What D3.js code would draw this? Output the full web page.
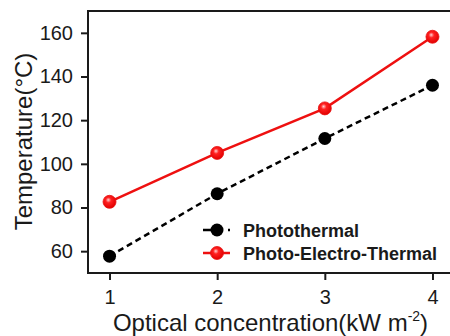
<!DOCTYPE html>
<html>
<head>
<meta charset="utf-8">
<script src="https://cdn.jsdelivr.net/npm/d3@7"></script>
<style>
  body { margin: 0; background: #fff; }
  svg { display: block; font-family: "Liberation Sans", Arial, sans-serif; }
</style>
</head>
<body>
<svg id="chart" width="450" height="336"></svg>
<script>
// data
var concentration = [1, 2, 3, 4];
var photothermal = [57.7, 86.3, 111.6, 136.0];
var photoElectroThermal = [82.6, 105.0, 125.4, 158.2];
var xTicks = [1, 2, 3, 4];
var yTicks = [60, 80, 100, 120, 140, 160];
var legendNames = ["Photothermal", "Photo-Electro-Thermal"];

var svg = d3.select('#chart');
var pLeft = 88, pTop = 11, pBottom = 273, pRight = 454;

var x = d3.scaleLinear().domain([0.8, 4.2]).range([pLeft, pRight]);
var y = d3.scaleLinear().domain([50, 170]).range([pBottom, pTop]);

// gradient for the shiny red balls
var defs = svg.append('defs');
var grad = defs.append('radialGradient').attr('id', 'redball')
    .attr('cx', '45%').attr('cy', '40%').attr('r', '60%').attr('fx', '40%').attr('fy', '35%');
grad.append('stop').attr('offset', '0%').attr('stop-color', '#ffd0d0');
grad.append('stop').attr('offset', '35%').attr('stop-color', '#ff2020');
grad.append('stop').attr('offset', '100%').attr('stop-color', '#e00000');

// axes
var xAxis = d3.axisBottom(x).tickValues(xTicks).tickSize(7).tickPadding(10).tickFormat(d3.format('d'));
var yAxis = d3.axisLeft(y).tickValues(yTicks).tickSize(7).tickPadding(8);

var gx = svg.append('g').attr('transform', 'translate(0,' + pBottom + ')').call(xAxis);
var gy = svg.append('g').attr('transform', 'translate(' + pLeft + ',0)').call(yAxis);
[gx, gy].forEach(function(g){
    g.select('.domain').remove();
    g.selectAll('.tick line').attr('stroke', '#1a1a1a').attr('stroke-width', 2);
    g.selectAll('.tick text').attr('fill', '#1a1a1a').style('font-size', '20px')
        .style('font-family', '"Liberation Sans", Arial, sans-serif');
});

// frame
svg.append('rect')
    .attr('x', pLeft).attr('y', pTop)
    .attr('width', pRight - pLeft).attr('height', pBottom - pTop)
    .attr('fill', 'none').attr('stroke', '#1a1a1a').attr('stroke-width', 2);

// lines
var line = d3.line().x(function(d){ return x(d[0]); }).y(function(d){ return y(d[1]); });
var ptData = concentration.map(function(c, i){ return [c, photothermal[i]]; });
var petData = concentration.map(function(c, i){ return [c, photoElectroThermal[i]]; });

svg.append('path').datum(ptData).attr('d', line)
    .attr('fill', 'none').attr('stroke', '#000').attr('stroke-width', 2.5)
    .attr('stroke-dasharray', '6,4');
svg.append('path').datum(petData).attr('d', line)
    .attr('fill', 'none').attr('stroke', '#ee1010').attr('stroke-width', 2.5);

svg.selectAll('.pt').data(ptData).enter().append('circle').attr('class', 'pt')
    .attr('cx', function(d){ return x(d[0]); }).attr('cy', function(d){ return y(d[1]); })
    .attr('r', 6.5).attr('fill', '#000');
svg.selectAll('.pet').data(petData).enter().append('circle').attr('class', 'pet')
    .attr('cx', function(d){ return x(d[0]); }).attr('cy', function(d){ return y(d[1]); })
    .attr('r', 6.5).attr('fill', 'url(#redball)').attr('stroke', '#e81010').attr('stroke-width', 0.8);

// legend
var lg = svg.append('g').attr('transform', 'translate(203,230)');
lg.append('line').attr('x1', 0).attr('x2', 27).attr('y1', 0).attr('y2', 0)
    .attr('stroke', '#000').attr('stroke-width', 2.5).attr('stroke-dasharray', '8,4,3,10');
lg.append('circle').attr('cx', 14).attr('cy', 0).attr('r', 6.5).attr('fill', '#000');
lg.append('line').attr('x1', 0).attr('x2', 27).attr('y1', 23).attr('y2', 23)
    .attr('stroke', '#ee1010').attr('stroke-width', 2.5);
lg.append('circle').attr('cx', 14).attr('cy', 23).attr('r', 6.5)
    .attr('fill', 'url(#redball)').attr('stroke', '#e81010').attr('stroke-width', 0.8);
lg.selectAll('.lt').data(legendNames).enter().append('text').attr('class', 'lt')
    .attr('x', 40).attr('y', function(d, i){ return i * 23 + 6.5; })
    .style('font-size', '18px').style('font-weight', 'bold').attr('fill', '#1a1a1a')
    .text(function(d){ return d; });

// axis titles
var xt = svg.append('text').attr('x', (113 + 428) / 2).attr('y', 331)
    .attr('text-anchor', 'middle').style('font-size', '24px').attr('fill', '#1a1a1a');
xt.append('tspan').text('Optical concentration(kW m');
xt.append('tspan').attr('dy', -10).style('font-size', '14px').text('-2');
xt.append('tspan').attr('dy', 10).text(')');

svg.append('text')
    .attr('transform', 'translate(32,' + ((50 + 233) / 2) + ') rotate(-90)')
    .attr('text-anchor', 'middle').style('font-size', '24px').attr('fill', '#1a1a1a')
    .text('Temperature(\u00b0C)');
</script>
</body>
</html>
